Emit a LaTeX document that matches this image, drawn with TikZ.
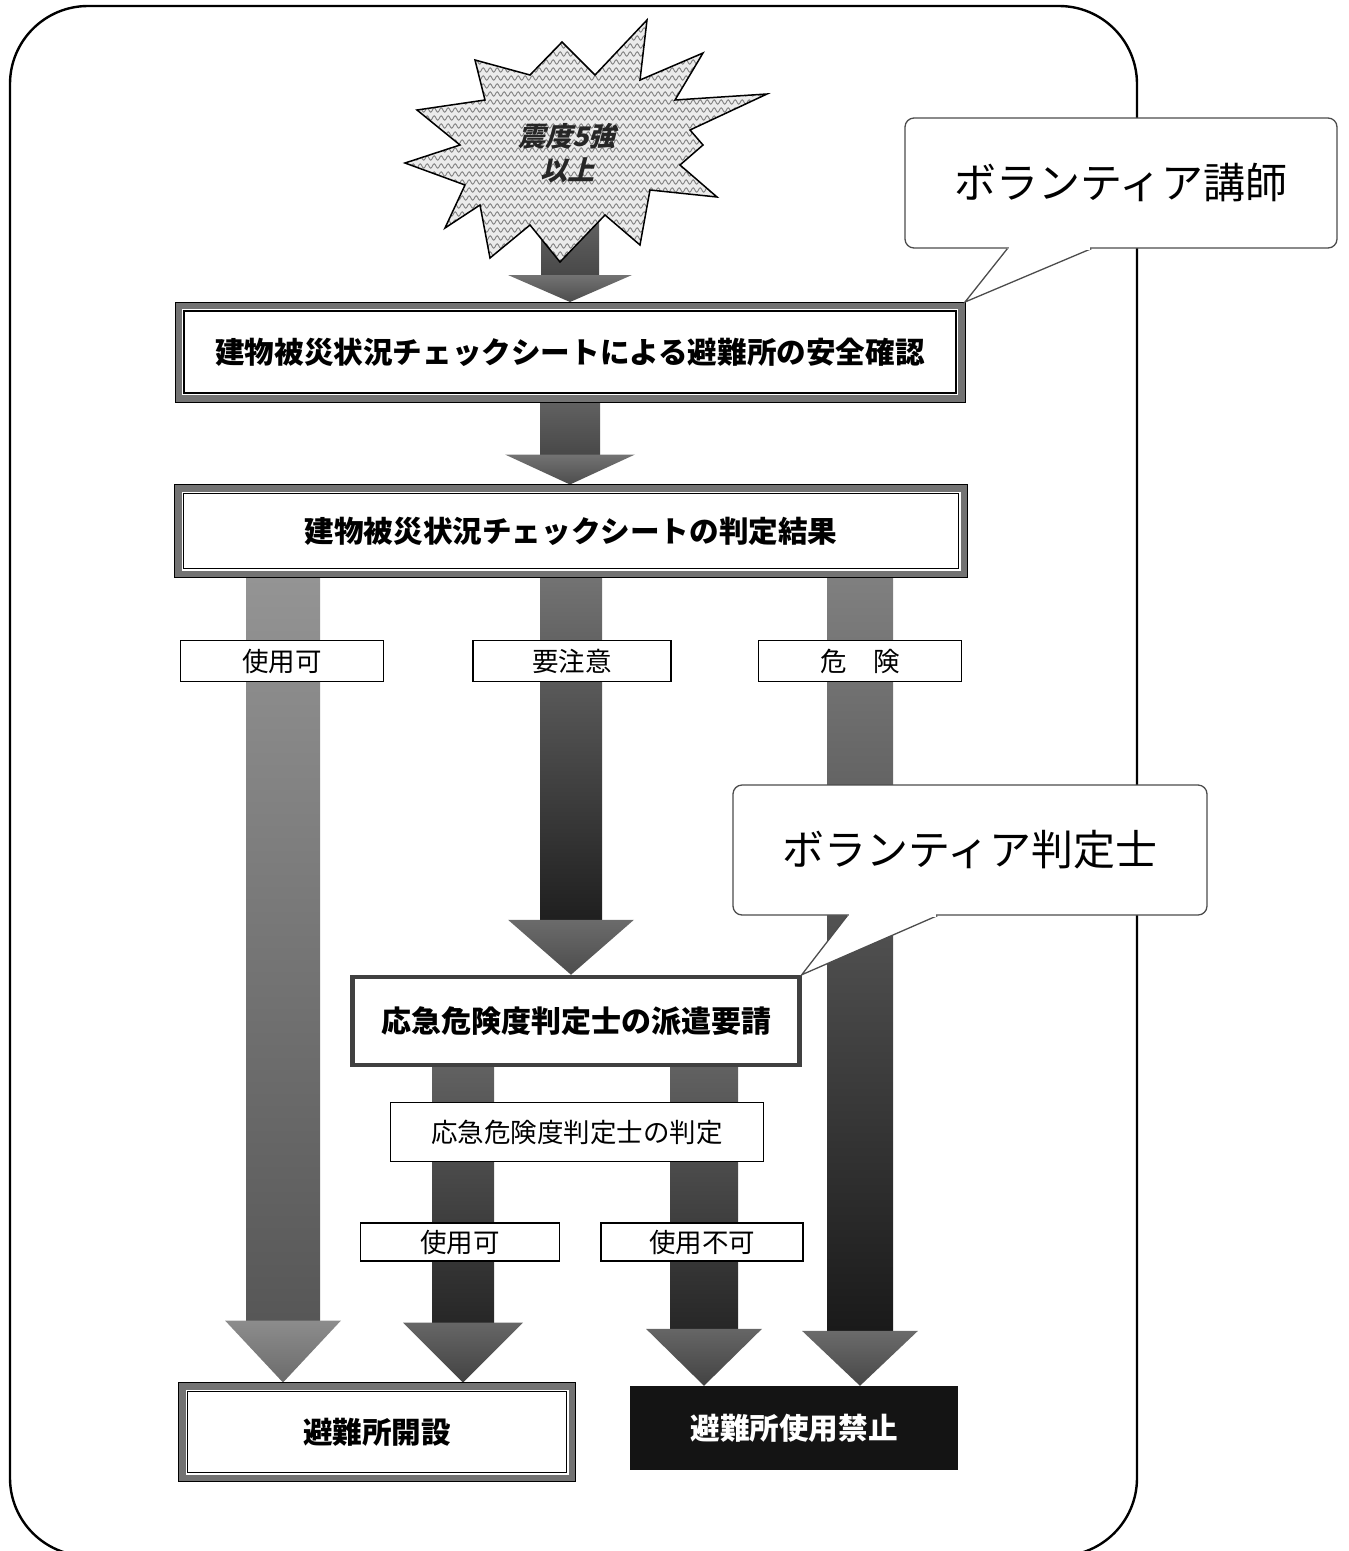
\documentclass[tikz,border=0pt]{standalone}
\usepackage{fontspec}
\newfontfamily\jp{Noto Sans CJK JP}
\newfontfamily\jpsl[FakeSlant=0.25]{Noto Sans CJK JP}
\usetikzlibrary{calc,decorations.pathmorphing}
\pgfdeclarelayer{bg}
\pgfsetlayers{bg,main}
\newcommand\fs[1]{\fontsize{#1}{#1}\selectfont}
\newcommand\blk[7]{%
  \path[#6] let \p1=(#1), \p2=(#2) in (\x1-#3pt,\y1) rectangle (\x1+#3pt,\y2+#5pt-2pt);
  \path[#7] let \p1=(#1), \p2=(#2) in (\x1-#4pt,\y2+#5pt) -- (\x1+#4pt,\y2+#5pt) -- (\x1,\y2) -- cycle;}
\newcommand\dframe[1]{%
  \draw[line width=1pt] (#1.north west) rectangle (#1.south east);
  \draw[line width=1.4pt] ([shift={(9,9)}]#1.north west) rectangle ([shift={(-9,-9)}]#1.south east);}
\tikzset{
  dbox/.style={draw=black!55, line width=7pt, fill=white, inner sep=0pt, font=\jp\bfseries\fs{29.6}},
  sbox/.style={draw=black!75, line width=4.5pt, fill=white, inner sep=0pt, font=\jp\bfseries\fs{30}},
  lbox/.style={draw=black, line width=1.6pt, fill=white, inner sep=0pt, font=\jp\fs{26.5}},
  call/.style={draw=black!70, line width=1.3pt, fill=white, rounded corners=9pt, inner sep=0pt, font=\jp\fs{42}},
  calltail/.style={draw=black!70, line width=1.3pt},
  frame/.style={line width=2.4pt, rounded corners=78pt},
}
\def\starpath{(647,20) -- (640,80) -- (703,53) -- (675,100) -- (767,94) -- (690,130) -- (703,145) -- (680,165) -- (717,197) -- (650,190) -- (640,245) -- (605,215) -- (560,262) -- (530,225) -- (490,258) -- (480,205) -- (445,228) -- (465,185) -- (405,163) -- (460,145) -- (417,110) -- (485,100) -- (475,60) -- (530,75) -- (562,42) -- (595,75) -- cycle}
\begin{document}
\begin{tikzpicture}[x=1pt,y=-1pt]
\useasboundingbox (0,0) rectangle (1349,1551);

% ---------- boxes ----------
\node[dbox, minimum width=783pt, minimum height=93pt] (b1) at (570,352) {建物被災状況チェックシートによる避難所の安全確認};
\node[dbox, minimum width=786pt, minimum height=86pt] (b2) at (571,531) {建物被災状況チェックシートの判定結果};
\node[lbox, minimum width=203pt, minimum height=41pt] (l1) at (282,661) {使用可};
\node[lbox, minimum width=198pt, minimum height=41pt] (l2) at (572,661) {要注意};
\node[lbox, minimum width=203pt, minimum height=41pt] (l3) at (860,661) {危　険};
\node[sbox, minimum width=447pt, minimum height=88pt] (b3) at (576,1021) {応急危険度判定士の派遣要請};
\node[lbox, minimum width=373pt, minimum height=59pt] (b4) at (577,1132) {応急危険度判定士の判定};
\node[lbox, minimum width=199pt, minimum height=38pt] (l4) at (460,1242) {使用可};
\node[lbox, minimum width=202pt, minimum height=38pt] (l5) at (702,1242) {使用不可};
\node[dbox, minimum width=390pt, minimum height=92pt] (b5) at (377,1432) {避難所開設};
\node[fill=black!92, text=white, inner sep=0pt, font=\jp\bfseries\fs{29.6}, minimum width=328pt, minimum height=84pt] (b6) at (794,1428) {避難所使用禁止};
\dframe{b1}
\dframe{b2}
\dframe{b5}

% ---------- star ----------
\begin{scope}
  \clip \starpath;
  \fill[black!8] (390,10) rectangle (780,270);
  \foreach \yy in {22,30,...,270}
    \draw[black!50, line width=0.9pt, decorate, decoration={snake, amplitude=2.2pt, segment length=7pt}] (390,\yy) -- (780,\yy);
\end{scope}
\draw[line width=1.5pt, line join=miter] \starpath;
\node[font=\jpsl\bfseries\fontsize{27}{34}\selectfont, text=black!85, align=center, inner sep=0pt] (star) at (567,153) {震度5強\\以上};
\coordinate (starb) at (570,222);

% ---------- arrow start points ----------
\coordinate (s1) at (570,0 |- b1.south);
\coordinate (sA) at (283,0 |- b2.south);
\coordinate (sM) at (571,0 |- b2.south);
\coordinate (sD) at (860,0 |- b2.south);
\coordinate (sB) at (463,0 |- b3.south);
\coordinate (sC) at (704,0 |- b3.south);

\begin{pgfonlayer}{bg}
  \draw[frame] (10,6) rectangle (1137,1556);
  \blk{starb}{starb |- b1.north}{29}{62}{27}{top color=black!62, bottom color=black!72}{top color=black!55, bottom color=black!70}
  \blk{s1}{s1 |- b2.north}{30}{65}{30}{top color=black!62, bottom color=black!72}{top color=black!55, bottom color=black!70}
  \blk{sA}{sA |- b5.north}{37}{58}{62}{top color=black!42, bottom color=black!66}{top color=black!45, bottom color=black!58}
  \blk{sM}{sM |- b3.north}{31}{63}{55}{top color=black!55, bottom color=black!88}{top color=black!58, bottom color=black!70}
  \blk{sD}{sD |- b6.north}{33}{58}{55}{top color=black!50, bottom color=black!90}{top color=black!58, bottom color=black!72}
  \blk{sB}{sB |- b5.north}{31}{60}{60}{top color=black!62, bottom color=black!85}{top color=black!60, bottom color=black!74}
  \blk{sC}{sC |- b6.north}{34}{58}{57}{top color=black!62, bottom color=black!85}{top color=black!60, bottom color=black!74}
\end{pgfonlayer}

% ---------- callouts ----------
\node[call, minimum width=432pt, minimum height=130pt] (c1) at (1121,183) {ボランティア講師};
\coordinate (c1a) at ($(c1.south west)+(103,0)$);
\coordinate (c1b) at ($(c1.south west)+(187,0)$);
\fill[white] (c1a) -- (b1.north east) -- (c1b) -- cycle;
\draw[calltail] (c1a) -- (b1.north east) -- (c1b);
\draw[white, line width=2.6pt] ($(c1a)+(1.5,0)$) -- ($(c1b)+(-1.5,0)$);

\node[call, minimum width=474pt, minimum height=130pt] (c2) at (970,850) {ボランティア判定士};
\coordinate (c2a) at ($(c2.south west)+(115,0)$);
\coordinate (c2b) at ($(c2.south west)+(205,0)$);
\fill[white] (c2a) -- (b3.north east) -- (c2b) -- cycle;
\draw[calltail] (c2a) -- (b3.north east) -- (c2b);
\draw[white, line width=2.6pt] ($(c2a)+(1.5,0)$) -- ($(c2b)+(-1.5,0)$);
\end{tikzpicture}
\end{document}
